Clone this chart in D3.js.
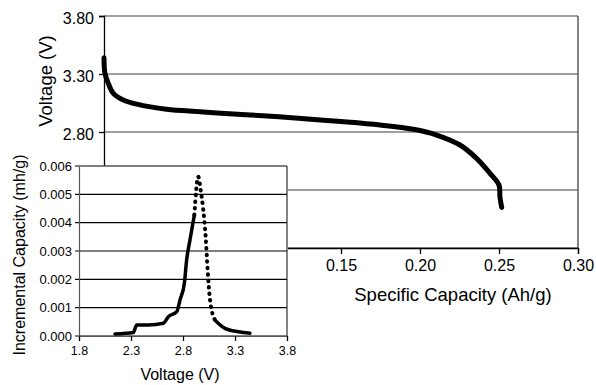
<!DOCTYPE html>
<html>
<head>
<meta charset="utf-8">
<script src="https://cdn.jsdelivr.net/npm/d3@7/dist/d3.min.js"></script>
<style>
  html, body { margin: 0; padding: 0; background: #fff; }
  svg { display: block; font-family: "Liberation Sans", Arial, sans-serif; }
</style>
</head>
<body>
<svg id="chart" width="596" height="385"></svg>
<script>
// Discharge curve: specific capacity (Ah/g) vs cell voltage (V)
const capacity = [0, 0.0006, 0.0027, 0.0059, 0.0122, 0.0207, 0.0396, 0.0608, 0.0818, 0.103,
                  0.123, 0.150, 0.1747, 0.1958, 0.2105, 0.2253, 0.2358, 0.2443, 0.2500, 0.2506, 0.2517];
const voltage  = [3.44, 3.306, 3.22, 3.133, 3.076, 3.04, 2.996, 2.975, 2.955, 2.938,
                  2.918, 2.89, 2.86, 2.823, 2.774, 2.688, 2.573, 2.444, 2.343, 2.24, 2.15];

// Incremental capacity (dQ/dV) vs voltage
const icVoltage  = [2.146, 2.322, 2.355, 2.466, 2.611, 2.659, 2.74, 2.771, 2.813, 2.835, 2.867,
                    2.909, 2.947, 2.97, 2.995, 3.018, 3.037, 3.06, 3.108, 3.204, 3.332, 3.444];
const icCapacity = [0.00007, 0.00012, 0.00039, 0.00039, 0.00045, 0.00068, 0.00086, 0.00127, 0.00186,
                    0.00268, 0.00339, 0.00427, 0.00562, 0.00515, 0.00445, 0.0035, 0.00233, 0.00127,
                    0.00056, 0.00027, 0.00015, 0.0001];

// Tick values (labels are shown only where the inset does not cover them)
const mainXTicks = [0, 0.05, 0.10, 0.15, 0.20, 0.25, 0.30];
const mainXLabelled = [0.15, 0.20, 0.25, 0.30];
const mainYTicks = [1.80, 2.30, 2.80, 3.30, 3.80];
const mainYLabelled = [2.80, 3.30, 3.80];
const insetXTicks = [1.8, 2.3, 2.8, 3.3, 3.8];
const insetYTicks = [0, 0.001, 0.002, 0.003, 0.004, 0.005, 0.006];

const FONT = "Liberation Sans, Arial, sans-serif";
const svg = d3.select("#chart");

// ---------- main chart ----------
const x = d3.scaleLinear().domain([0, 0.30]).range([104, 578]);
const y = d3.scaleLinear().domain([1.80, 3.80]).range([248, 16]);

const main = svg.append("g");

// horizontal gridlines
main.selectAll("line.grid").data(mainYTicks).join("line")
  .attr("class", "grid")
  .attr("x1", x(0)).attr("x2", x(0.30))
  .attr("y1", d => y(d)).attr("y2", d => y(d))
  .attr("stroke", "#808080").attr("stroke-width", 1.3);

// right border
main.append("line")
  .attr("x1", x(0.30)).attr("x2", x(0.30))
  .attr("y1", y(3.80)).attr("y2", y(1.80))
  .attr("stroke", "#404040").attr("stroke-width", 1.3);

const fmt2 = d3.format(".2f");
const near = (arr, d) => arr.some(v => Math.abs(v - d) < 1e-9);

// x axis
const xAxis = main.append("g")
  .attr("transform", `translate(0,${y(1.80)})`)
  .call(d3.axisBottom(x).tickValues(mainXTicks)
    .tickFormat(d => near(mainXLabelled, d) ? fmt2(d) : "")
    .tickSizeOuter(0).tickSize(6).tickPadding(6));
xAxis.select(".domain").attr("stroke", "#000").attr("stroke-width", 1.3);
xAxis.selectAll(".tick line").attr("stroke", "#000").attr("stroke-width", 1.3);
xAxis.selectAll(".tick text").attr("font-size", 16).attr("font-family", FONT).attr("fill", "#000");

// y axis
const yAxis = main.append("g")
  .attr("transform", `translate(${x(0)},0)`)
  .call(d3.axisLeft(y).tickValues(mainYTicks)
    .tickFormat(d => near(mainYLabelled, d) ? fmt2(d) : "")
    .tickSizeOuter(0).tickSize(5).tickPadding(5));
yAxis.select(".domain").attr("stroke", "#000").attr("stroke-width", 1.3);
yAxis.selectAll(".tick line").attr("stroke", "#000").attr("stroke-width", 1.3);
yAxis.selectAll(".tick text").attr("font-size", 16).attr("font-family", FONT).attr("fill", "#000").attr("dy", "0.45em");

// axis titles
main.append("text")
  .attr("x", 453).attr("y", 301)
  .attr("text-anchor", "middle").attr("font-size", 18.5).attr("fill", "#000")
  .text("Specific Capacity (Ah/g)");
main.append("text")
  .attr("transform", "translate(52,81) rotate(-90)")
  .attr("text-anchor", "middle").attr("font-size", 18.5).attr("fill", "#000")
  .text("Voltage (V)");

// discharge curve
const dischargeData = capacity.map((c, i) => ({ c, v: voltage[i] }));
main.append("path")
  .datum(dischargeData)
  .attr("fill", "none").attr("stroke", "#000").attr("stroke-width", 5)
  .attr("stroke-linecap", "round").attr("stroke-linejoin", "round")
  .attr("d", d3.line().x(d => x(d.c)).y(d => y(d.v)).curve(d3.curveCatmullRom.alpha(0.5)));

// ---------- inset chart ----------
const ix = d3.scaleLinear().domain([1.8, 3.8]).range([79, 287]);
const iy = d3.scaleLinear().domain([0, 0.006]).range([336, 166]);

const inset = svg.append("g");

// white backdrop over the lower-left of the main chart
inset.append("rect")
  .attr("x", 0).attr("y", 165.5).attr("width", 288).attr("height", 385 - 165.5)
  .attr("fill", "#fff");

// horizontal gridlines (extend left as ticks)
inset.selectAll("line.grid").data(insetYTicks).join("line")
  .attr("class", "grid")
  .attr("x1", ix(1.8) - 4).attr("x2", ix(3.8))
  .attr("y1", d => iy(d)).attr("y2", d => iy(d))
  .attr("stroke", "#000").attr("stroke-width", 1.2);

// right border
inset.append("line")
  .attr("x1", ix(3.8)).attr("x2", ix(3.8))
  .attr("y1", iy(0.006)).attr("y2", iy(0))
  .attr("stroke", "#303030").attr("stroke-width", 1.2);

// x axis
const ixAxis = inset.append("g")
  .attr("transform", `translate(0,${iy(0)})`)
  .call(d3.axisBottom(ix).tickValues(insetXTicks).tickFormat(d3.format(".1f")).tickSizeOuter(0).tickSize(5).tickPadding(5));
ixAxis.select(".domain").attr("stroke", "#555").attr("stroke-width", 1.2);
ixAxis.selectAll(".tick line").attr("stroke", "#000").attr("stroke-width", 1.2);
ixAxis.selectAll(".tick text").attr("font-size", 12.5).attr("font-family", FONT).attr("fill", "#000");

// y axis
const iyAxis = inset.append("g")
  .attr("transform", `translate(${ix(1.8)},0)`)
  .call(d3.axisLeft(iy).tickValues(insetYTicks).tickFormat(d3.format(".3f")).tickSizeOuter(0).tickSize(0).tickPadding(7));
iyAxis.select(".domain").attr("stroke", "#555").attr("stroke-width", 1.2);
iyAxis.selectAll(".tick text").attr("font-size", 13).attr("font-family", FONT).attr("fill", "#000");

// axis titles
inset.append("text")
  .attr("x", 180).attr("y", 380)
  .attr("text-anchor", "middle").attr("font-size", 16).attr("fill", "#000")
  .text("Voltage (V)");
inset.append("text")
  .attr("transform", "translate(25,255) rotate(-90)")
  .attr("text-anchor", "middle").attr("font-size", 16).attr("fill", "#000")
  .text("Incremental Capacity (mh/g)");

// incremental capacity trace: dense (solid) where the markers overlap,
// separate dots across the sharp peak
const icData = icVoltage.map((v, i) => ({ v, q: icCapacity[i] }));
const icLine = d3.line().x(d => ix(d.v)).y(d => iy(d.q)).curve(d3.curveMonotoneX);
const peakStart = 11, peakEnd = 18;

inset.append("path")
  .datum(icData.slice(0, peakStart + 1))
  .attr("fill", "none").attr("stroke", "#000").attr("stroke-width", 3.5)
  .attr("stroke-linejoin", "round").attr("stroke-linecap", "round")
  .attr("d", icLine);
inset.append("path")
  .datum(icData.slice(peakEnd))
  .attr("fill", "none").attr("stroke", "#000").attr("stroke-width", 3.5)
  .attr("stroke-linejoin", "round").attr("stroke-linecap", "round")
  .attr("d", icLine);
inset.append("path")
  .datum(icData.slice(peakStart, peakEnd + 1))
  .attr("fill", "none").attr("stroke", "#000").attr("stroke-width", 4)
  .attr("stroke-linecap", "round").attr("stroke-dasharray", "0.5 6")
  .attr("d", icLine);
</script>
</body>
</html>
